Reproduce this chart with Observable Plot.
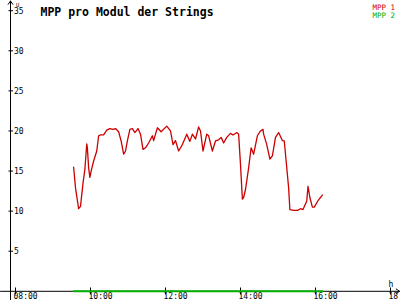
<!DOCTYPE html>
<html>
<head>
<meta charset="utf-8">
<script src="https://cdn.jsdelivr.net/npm/d3@7"></script>
<script src="https://cdn.jsdelivr.net/npm/@observablehq/plot@0.6"></script>
<style>
  html, body { margin: 0; padding: 0; background: #ffffff; overflow: hidden; }
  #chart svg { overflow: hidden; display: block; }
</style>
</head>
<body>
<div id="chart"></div>
<script>
// ---- data ----
const title = "MPP pro Modul der Strings";
const seriesNames = ["MPP 1", "MPP 2"];
const seriesColors = ["#cc0000", "#00b000"];

const mpp1Times = [
  "9:33","9:36","9:41","9:44","9:48","9:51","9:54","9:55","9:57","9:59",
  "10:01","10:05","10:10","10:13","10:16","10:21","10:26","10:31","10:36","10:40",
  "10:45","10:49","10:53","10:56","10:59","11:03","11:07","11:11","11:16","11:20",
  "11:24","11:28","11:33","11:39","11:41","11:47","11:53","12:02","12:08","12:12",
  "12:16","12:21","12:27","12:34","12:39","12:43","12:48","12:53","12:56","13:00",
  "13:06","13:09","13:15","13:20","13:25","13:29","13:33","13:38","13:44","13:48",
  "13:54","13:57","14:00","14:03","14:05","14:08","14:13","14:17","14:21","14:27",
  "14:32","14:36","14:37","14:42","14:47","14:51","14:56","15:01","15:07","15:10",
  "15:12","15:17","15:19","15:25","15:31","15:36","15:40","15:46","15:48","15:51",
  "15:55","15:58","16:04","16:11"
];
const mpp1Values = [
  15.5,12.9,10.3,10.6,13.5,15.2,18.4,17.9,15.4,14.2,
  15.0,16.25,17.5,19.4,19.5,19.5,20.1,20.3,20.2,20.3,
  19.9,18.75,17.1,17.5,18.75,20.2,20.3,19.8,20.3,19.6,
  17.7,17.9,18.5,19.4,18.8,20.4,19.9,20.6,20.0,18.3,
  18.8,17.5,18.3,19.6,18.7,19.6,19.0,20.5,20.0,17.5,
  19.6,19.4,17.5,18.75,18.9,19.2,18.5,19.2,19.7,19.5,
  19.8,19.6,15.8,11.5,11.7,12.7,15.4,17.9,17.1,19.4,
  20.0,20.2,19.6,18.3,16.5,16.9,19.2,19.8,18.8,18.75,
  17.1,12.9,10.2,10.1,10.1,10.3,10.2,11.25,13.1,11.7,
  10.5,10.5,11.3,12.0
];
const mpp2Times = ["9:33", "16:11"];
const mpp2Values = [0, 0];

const xTickValues = [8, 10, 12, 14, 16, 18];
const xTickLabels = ["08:00", "10:00", "12:00", "14:00", "16:00", "18:00"];
const yTickValues = [5, 10, 15, 20, 25, 30, 35];
const xUnit = "h";
const yUnit = "U";

// ---- helpers ----
const parseTime = s => { const [h, m] = s.split(":").map(Number); return h + m / 60; };
const mpp1 = mpp1Times.map((t, i) => ({h: parseTime(t), v: mpp1Values[i]}));
const mpp2 = mpp2Times.map((t, i) => ({h: parseTime(t), v: mpp2Values[i]}));

const W = 400, H = 300;
const xRange = [15, 390], yRange = [290.8, 10.2];
const xDomain = [8, 18], yDomain = [0, 35];
const xInv = px => xDomain[0] + (px - xRange[0]) / (xRange[1] - xRange[0]) * (xDomain[1] - xDomain[0]);
const yInv = py => yDomain[0] + (py - yRange[0]) / (yRange[1] - yRange[0]) * (yDomain[1] - yDomain[0]);

const mono = "DejaVu Sans Mono, monospace";
const axisX = xInv(10);   // vertical axis position
const axisY = 0;          // horizontal axis position

const legendMarks = seriesNames.map((name, i) =>
  Plot.text([name], {frameAnchor: "top-right", dx: -5.5, dy: i === 0 ? 4.0 : 12.2, text: d => d,
    textAnchor: "end", fontFamily: mono, fontSize: 7.5, fill: seriesColors[i]})
);

const chart = Plot.plot({
  width: W,
  height: H,
  margin: 0,
  style: {background: "#ffffff", overflow: "hidden"},
  x: {type: "linear", domain: xDomain, range: xRange, axis: null},
  y: {type: "linear", domain: yDomain, range: yRange, axis: null},
  marks: [
    // axes with arrowheads
    Plot.arrow([0], {x1: xInv(0), y1: axisY, x2: xInv(399), y2: axisY,
      stroke: "#000", strokeWidth: 1, headLength: 6, headAngle: 70}),
    Plot.arrow([0], {x1: axisX, y1: yInv(300), x2: axisX, y2: yInv(0.5),
      stroke: "#000", strokeWidth: 1, headLength: 6, headAngle: 70}),
    // y ticks + labels
    Plot.link(yTickValues, {x1: xInv(8), x2: xInv(12.5), y1: d => d, y2: d => d, stroke: "#000"}),
    Plot.text(yTickValues, {x: xInv(13.5), y: d => d, dy: 0.5, text: d => String(d), textAnchor: "start",
      fontFamily: mono, fontSize: 8, fill: "#000"}),
    // x ticks + labels
    Plot.link(xTickValues, {x1: d => d, x2: d => d, y1: yInv(287), y2: yInv(294), stroke: "#000"}),
    Plot.text(xTickValues, {x: d => d, y: yInv(296.3), dx: -2, text: (d, i) => xTickLabels[i], textAnchor: "start",
      fontFamily: mono, fontSize: 8, fill: "#000"}),
    // series
    Plot.line(mpp2, {x: "h", y: "v", stroke: seriesColors[1], strokeWidth: 2}),
    Plot.line(mpp1, {x: "h", y: "v", stroke: seriesColors[0], strokeWidth: 1.3}),
    // units
    Plot.text([xUnit], {frameAnchor: "top-left", dx: 388, dy: 281, text: d => d, fontFamily: mono, fontSize: 8, fill: "#000"}),
    Plot.text([yUnit], {frameAnchor: "top-left", dx: 15.5, dy: 2.2, text: d => d, fontFamily: mono, fontSize: 5.5, fill: "#000"}),
    // title
    Plot.text([title], {frameAnchor: "top-left", dx: 40, dy: 7.3, text: d => d, textAnchor: "start",
      fontFamily: mono, fontWeight: "bold", fontSize: 11.5, fill: "#000"}),
    // legend
    ...legendMarks
  ]
});

document.getElementById("chart").appendChild(chart);
</script>
</body>
</html>
